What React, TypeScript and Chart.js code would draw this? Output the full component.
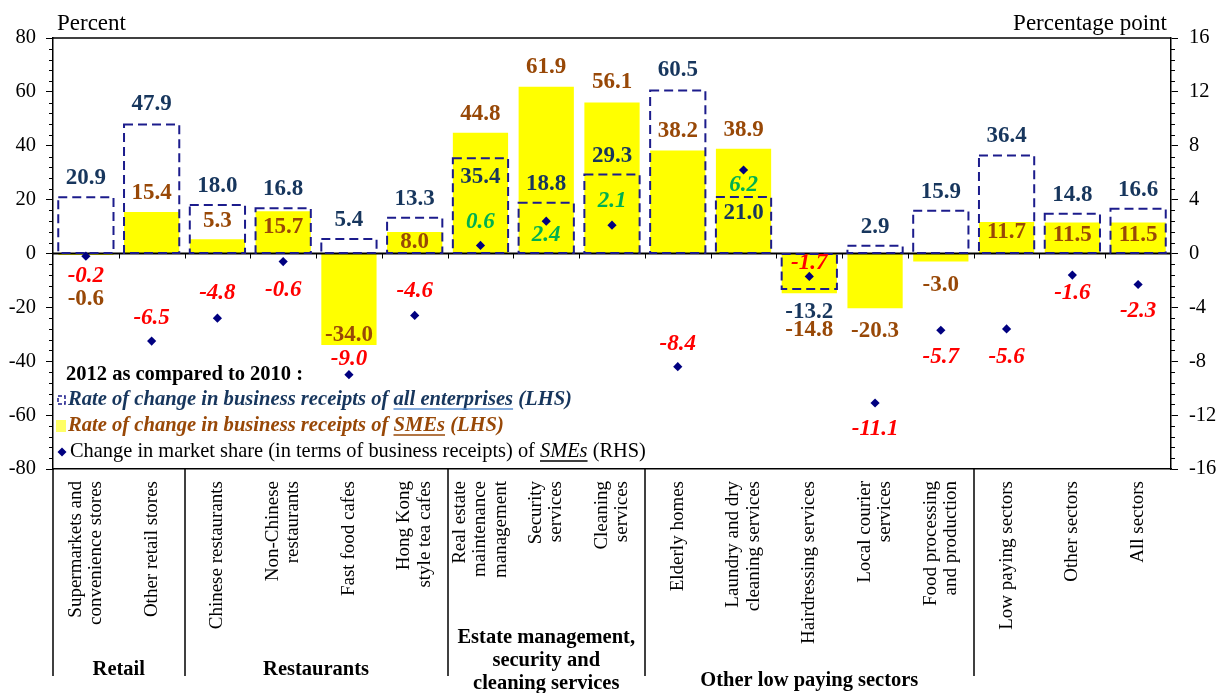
import React, { useEffect, useRef } from 'react';
import { Chart, registerables } from 'chart.js';

Chart.register(...registerables);

// ---------- data ----------
const categories: string[][] = [
  ['Supermarkets and', 'convenience stores'],
  ['Other retail stores'],
  ['Chinese restaurants'],
  ['Non-Chinese', 'restaurants'],
  ['Fast food cafes'],
  ['Hong Kong', 'style tea cafes'],
  ['Real estate', 'maintenance', 'management'],
  ['Security', 'services'],
  ['Cleaning', 'services'],
  ['Elderly homes'],
  ['Laundry and dry', 'cleaning services'],
  ['Hairdressing services'],
  ['Local courier', 'services'],
  ['Food processing', 'and production'],
  ['Low paying sectors'],
  ['Other sectors'],
  ['All sectors'],
];

const allEnterprises = [20.9, 47.9, 18.0, 16.8, 5.4, 13.3, 35.4, 18.8, 29.3, 60.5, 21.0, -13.2, 2.9, 15.9, 36.4, 14.8, 16.6];
const smes = [-0.6, 15.4, 5.3, 15.7, -34.0, 8.0, 44.8, 61.9, 56.1, 38.2, 38.9, -14.8, -20.3, -3.0, 11.7, 11.5, 11.5];
const marketShare = [-0.2, -6.5, -4.8, -0.6, -9.0, -4.6, 0.6, 2.4, 2.1, -8.4, 6.2, -1.7, -11.1, -5.7, -5.6, -1.6, -2.3];

const groupLabels: string[][] = [
  ['Retail'],
  ['Restaurants'],
  ['Estate management,', 'security and', 'cleaning services'],
  ['Other low paying sectors'],
  [],
];
const groupStart = [0, 2, 6, 9, 14];
const groupEnd = [1, 5, 8, 13, 16];

const leftAxis = { min: -80, max: 80, step: 20, minor: 4 };
const rightAxis = { min: -16, max: 16, step: 4, minor: 0.8 };

// ---------- label placement (pixel offsets, separate from data) ----------
const allLabelDy = [-19, -20, -19, -19, -19, -19, 19, -19, -19, -20, 16, 23, -19, -19, -19, -19, -19];
const smeLabelDy = [44, -19, -18, 16, -10, 10, -19, -20, -20, -20, -19, 37, 23, 23, 10, 13, 13];
const shareLabelDy = [20, -23, -25, 28, -16, -24, -23, 14, -24, -23, 15, -13, 26, 27, 28, 18, 27];
const groupLabelY = [670, 670, 638, 681, 0];

// ---------- styles ----------
const SERIF = '"Liberation Serif", "Times New Roman", serif';
const NAVY_TEXT = '#17365D';
const BROWN = '#984807';
const RED = '#FF0000';
const GREEN = '#00B050';
const DASH_NAVY = '#1C1C8C';
const POINT_NAVY = '#000080';
const YELLOW = '#FFFF00';

const fmt = (v: number) => v.toFixed(1);

const customPlugin = {
  id: 'customDecor',
  afterDatasetDraw(chart: any, args: any) {
    const ctx = chart.ctx as CanvasRenderingContext2D;
    const area = chart.chartArea;
    if (args.index === 2) {
      const y0 = chart.scales.y.getPixelForValue(0);
      ctx.save();
      ctx.strokeStyle = '#000';
      ctx.lineWidth = 1.8;
      ctx.beginPath();
      ctx.moveTo(area.left, y0);
      ctx.lineTo(area.right, y0);
      ctx.stroke();
      const n = categories.length;
      const w = (area.right - area.left) / n;
      ctx.lineWidth = 1;
      for (let k = 1; k < n; k++) {
        const x = Math.round(area.left + k * w) + 0.5;
        ctx.beginPath();
        ctx.moveTo(x, y0);
        ctx.lineTo(x, y0 + 5);
        ctx.stroke();
      }
      ctx.restore();
    }
    if (args.index === 1) {
      ctx.save();
      ctx.strokeStyle = DASH_NAVY;
      ctx.lineWidth = 2;
      ctx.setLineDash([9, 5]);
      args.meta.data.forEach((bar: any) => {
        const p = bar.getProps(['x', 'y', 'base', 'width'], true);
        const left = p.x - p.width / 2;
        const top = Math.min(p.y, p.base);
        const h = Math.abs(p.base - p.y);
        ctx.strokeRect(left, top, p.width, h);
      });
      ctx.restore();
    }
  },
  afterDraw(chart: any) {
    const ctx = chart.ctx as CanvasRenderingContext2D;
    const area = chart.chartArea;
    const yL = chart.scales.y;
    const yR = chart.scales.y1;
    ctx.save();

    ctx.strokeStyle = '#000';
    ctx.lineWidth = 1.5;
    ctx.beginPath();
    ctx.moveTo(area.left, area.top);
    ctx.lineTo(area.right, area.top);
    ctx.stroke();

    ctx.lineWidth = 1;
    for (let v = leftAxis.min; v <= leftAxis.max + 1e-6; v += leftAxis.minor) {
      if (Math.abs(v / leftAxis.step - Math.round(v / leftAxis.step)) < 1e-6) continue;
      const y = Math.round(yL.getPixelForValue(v)) + 0.5;
      ctx.beginPath();
      ctx.moveTo(area.left - 4, y);
      ctx.lineTo(area.left, y);
      ctx.stroke();
    }
    for (let v = rightAxis.min; v <= rightAxis.max + 1e-6; v += rightAxis.minor) {
      if (Math.abs(v / rightAxis.step - Math.round(v / rightAxis.step)) < 1e-6) continue;
      const y = Math.round(yR.getPixelForValue(v)) + 0.5;
      ctx.beginPath();
      ctx.moveTo(area.right, y);
      ctx.lineTo(area.right + 4, y);
      ctx.stroke();
    }

    ctx.fillStyle = '#000';
    ctx.font = `23px ${SERIF}`;
    ctx.textBaseline = 'middle';
    ctx.textAlign = 'left';
    ctx.fillText('Percent', 57, 24);
    ctx.textAlign = 'right';
    ctx.fillText('Percentage point', 1167, 24);

    const mAll = chart.getDatasetMeta(1);
    const mSme = chart.getDatasetMeta(2);
    const mShare = chart.getDatasetMeta(0);
    ctx.textAlign = 'center';
    ctx.textBaseline = 'middle';
    for (let i = 0; i < categories.length; i++) {
      const a = mAll.data[i];
      ctx.font = `bold 23px ${SERIF}`;
      ctx.fillStyle = NAVY_TEXT;
      ctx.fillText(fmt(allEnterprises[i]), a.x, a.y + allLabelDy[i]);
      const s = mSme.data[i];
      ctx.fillStyle = BROWN;
      ctx.fillText(fmt(smes[i]), s.x, s.y + smeLabelDy[i]);
      const p = mShare.data[i];
      ctx.font = `italic bold 23px ${SERIF}`;
      ctx.fillStyle = marketShare[i] >= 0 ? GREEN : RED;
      ctx.fillText(fmt(marketShare[i]), p.x, p.y + shareLabelDy[i]);
    }

    const xs = chart.scales.x;
    ctx.fillStyle = '#000';
    ctx.font = `19px ${SERIF}`;
    const lh = 20.5;
    for (let i = 0; i < categories.length; i++) {
      const x = xs.getPixelForValue(i);
      const lines = categories[i];
      ctx.save();
      ctx.translate(x, area.bottom + 12);
      ctx.rotate(-Math.PI / 2);
      ctx.textAlign = 'right';
      ctx.textBaseline = 'middle';
      lines.forEach((ln, k) => {
        ctx.fillText(ln, 0, (k - (lines.length - 1) / 2) * lh);
      });
      ctx.restore();
    }

    const n = categories.length;
    const cw = (area.right - area.left) / n;
    ctx.strokeStyle = '#000';
    ctx.lineWidth = 1.5;
    groupStart.forEach((g) => {
      const x = Math.round(area.left + g * cw);
      ctx.beginPath();
      ctx.moveTo(x, area.bottom);
      ctx.lineTo(x, 676);
      ctx.stroke();
    });
    ctx.font = `bold 20.5px ${SERIF}`;
    ctx.textAlign = 'center';
    ctx.textBaseline = 'middle';
    groupLabels.forEach((lines, gi) => {
      const cx = area.left + ((groupStart[gi] + groupEnd[gi] + 1) / 2) * cw;
      lines.forEach((ln, k) => {
        ctx.fillText(ln, cx, groupLabelY[gi] + k * 23);
      });
    });

    const lx = 57;
    ctx.textAlign = 'left';
    ctx.textBaseline = 'middle';
    ctx.font = `bold 20.5px ${SERIF}`;
    ctx.fillStyle = '#000';
    ctx.fillText('2012 as compared to 2010 :', 66, 375);

    const segs = (x: number, y: number, parts: { t: string; f: string; c: string; u?: string }[]) => {
      parts.forEach((pt) => {
        ctx.font = pt.f;
        ctx.fillStyle = pt.c;
        ctx.fillText(pt.t, x, y);
        const w = ctx.measureText(pt.t).width;
        if (pt.u) {
          ctx.strokeStyle = pt.u;
          ctx.lineWidth = 1.5;
          ctx.setLineDash([]);
          ctx.beginPath();
          ctx.moveTo(x, y + 9);
          ctx.lineTo(x + w, y + 9);
          ctx.stroke();
        }
        x += w;
      });
    };

    ctx.strokeStyle = DASH_NAVY;
    ctx.lineWidth = 1.5;
    ctx.setLineDash([4, 2]);
    ctx.strokeRect(lx + 1, 396, 7, 8);
    ctx.setLineDash([]);
    const bi = `italic bold 20.6px ${SERIF}`;
    segs(68, 400, [
      { t: 'Rate of change in business receipts of ', f: bi, c: NAVY_TEXT },
      { t: 'all enterprises', f: bi, c: NAVY_TEXT, u: '#5B8FD0' },
      { t: ' (LHS)', f: bi, c: NAVY_TEXT },
    ]);
    ctx.fillStyle = '#FFFF66';
    ctx.fillRect(lx - 1, 420, 10, 12);
    segs(68, 426, [
      { t: 'Rate of change in business receipts of ', f: bi, c: BROWN },
      { t: 'SMEs', f: bi, c: BROWN, u: BROWN },
      { t: ' (LHS)', f: bi, c: BROWN },
    ]);
    ctx.fillStyle = POINT_NAVY;
    ctx.beginPath();
    ctx.moveTo(lx + 5, 447.5);
    ctx.lineTo(lx + 9.5, 452);
    ctx.lineTo(lx + 5, 456.5);
    ctx.lineTo(lx + 0.5, 452);
    ctx.closePath();
    ctx.fill();
    const rg = `20.4px ${SERIF}`;
    const it = `italic 20.4px ${SERIF}`;
    segs(70, 452, [
      { t: 'Change in market share (in terms of business receipts) of ', f: rg, c: '#000' },
      { t: 'SMEs', f: it, c: '#000', u: '#000' },
      { t: ' (RHS)', f: rg, c: '#000' },
    ]);

    ctx.restore();
  },
};

export default function App() {
  const canvasRef = useRef<HTMLCanvasElement | null>(null);

  useEffect(() => {
    const canvas = canvasRef.current;
    if (!canvas) return;
    const chart = new Chart(canvas, {
      type: 'bar',
      data: {
        labels: categories.map((c) => c.join(' ')),
        datasets: [
          {
            type: 'line',
            label: 'Change in market share of SMEs (RHS)',
            data: marketShare,
            yAxisID: 'y1',
            showLine: false,
            pointStyle: 'rectRot',
            pointRadius: 4.6,
            pointBackgroundColor: POINT_NAVY,
            pointBorderColor: POINT_NAVY,
            pointBorderWidth: 0,
            order: 0,
          } as any,
          {
            type: 'bar',
            label: 'Rate of change in business receipts of all enterprises (LHS)',
            data: allEnterprises,
            yAxisID: 'y',
            backgroundColor: 'rgba(0,0,0,0)',
            borderWidth: 0,
            grouped: false,
            barPercentage: 0.84,
            categoryPercentage: 1,
            order: 1,
          } as any,
          {
            type: 'bar',
            label: 'Rate of change in business receipts of SMEs (LHS)',
            data: smes,
            yAxisID: 'y',
            backgroundColor: YELLOW,
            borderWidth: 0,
            grouped: false,
            barPercentage: 0.84,
            categoryPercentage: 1,
            order: 2,
          } as any,
        ],
      },
      options: {
        responsive: false,
        animation: false,
        devicePixelRatio: 1,
        layout: { padding: { top: 38, left: 0, right: 0, bottom: 0 } },
        plugins: {
          legend: { display: false },
          tooltip: { enabled: false },
          title: { display: false },
        },
        scales: {
          x: {
            type: 'category',
            offset: true,
            grid: { display: false },
            ticks: { display: false },
            border: { display: true, color: '#000', width: 1.5 },
            afterFit: (s: any) => {
              s.height = 224;
            },
          },
          y: {
            position: 'left',
            min: leftAxis.min,
            max: leftAxis.max,
            ticks: {
              stepSize: leftAxis.step,
              color: '#000',
              font: { family: SERIF, size: 20.5 },
              padding: 10,
            },
            grid: { drawOnChartArea: false, drawTicks: true, tickLength: 7, tickColor: '#000', tickWidth: 1 },
            border: { display: true, color: '#000', width: 1.5 },
            afterFit: (s: any) => {
              s.width = 53;
            },
          },
          y1: {
            position: 'right',
            min: rightAxis.min,
            max: rightAxis.max,
            ticks: {
              stepSize: rightAxis.step,
              color: '#000',
              font: { family: SERIF, size: 20.5 },
              padding: 11,
            },
            grid: { drawOnChartArea: false, drawTicks: true, tickLength: 7, tickColor: '#000', tickWidth: 1 },
            border: { display: true, color: '#000', width: 1.5 },
            afterFit: (s: any) => {
              s.width = 45;
            },
          },
        },
      } as any,
      plugins: [customPlugin],
    });
    return () => chart.destroy();
  }, []);

  return (
    <div style={{ position: 'absolute', left: 0, top: 0, width: 1216, height: 693, background: '#fff' }}>
      <canvas ref={canvasRef} width={1216} height={693} style={{ display: 'block' }} />
    </div>
  );
}
